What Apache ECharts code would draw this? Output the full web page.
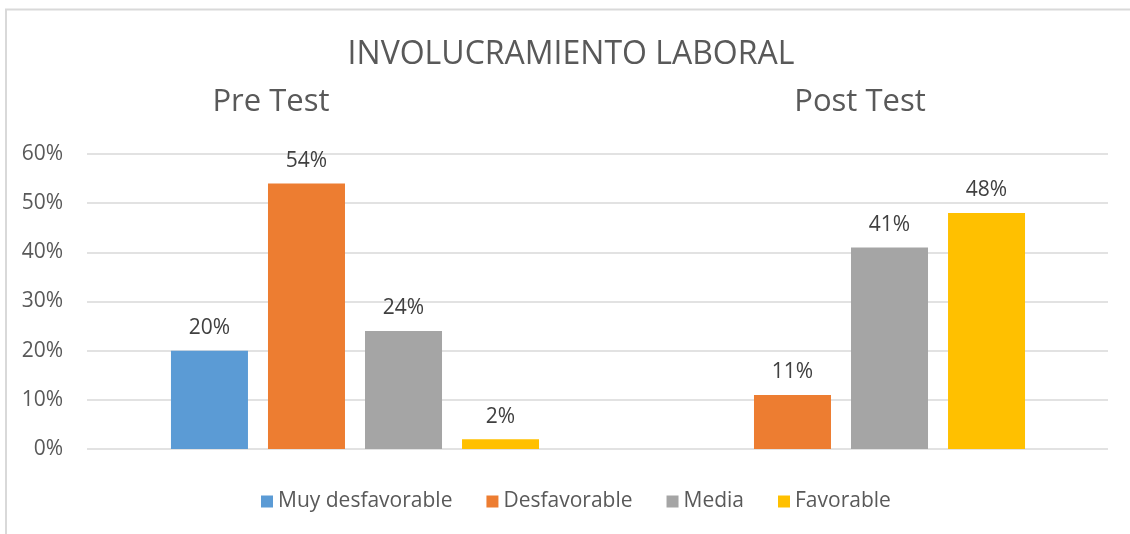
<!DOCTYPE html>
<html>
<head>
<meta charset="utf-8">
<script src="https://cdn.jsdelivr.net/npm/echarts@6/dist/echarts.min.js"></script>
<style>
  html, body { margin: 0; padding: 0; background: #fff; }
  #chart { width: 1130px; height: 534px; }
</style>
</head>
<body>
<div id="chart"></div>
<script>
var categories = ['Pre Test', 'Post Test'];
var seriesNames = ['Muy desfavorable', 'Desfavorable', 'Media', 'Favorable'];
var muyDesfavorable = [20, null];
var desfavorable = [54, 11];
var media = [24, 41];
var favorable = [2, 48];
var yTicks = [0, 10, 20, 30, 40, 50, 60];

var colors = ['#5b9bd5', '#ed7d31', '#a5a5a5', '#ffc000'];
var font = '"Open Sans", "Noto Sans", sans-serif';

function barSeries (name, values, color) {
  return {
    name: name,
    type: 'bar',
    xAxisIndex: 1,
    yAxisIndex: 1,
    barWidth: 77,
    barGap: '26%',
    itemStyle: { color: color },
    label: {
      show: true,
      position: 'top',
      distance: 12,
      formatter: '{c}%',
      color: '#404040',
      fontSize: 21,
      fontFamily: font
    },
    data: values
  }
}

var chart = echarts.init(document.getElementById('chart'))
chart.setOption({
  animation: false,
  color: colors,
  title: [
    { text: 'INVOLUCRAMIENTO LABORAL', left: 566, top: 34, textAlign: 'center',
      textStyle: { color: '#595959', fontSize: 32, fontWeight: 'normal', fontFamily: font } },
    { text: 'Pre Test', left: 266, top: 82, textAlign: 'center',
      textStyle: { color: '#595959', fontSize: 31, fontWeight: 'normal', fontFamily: font } },
    { text: 'Post Test', left: 855, top: 82, textAlign: 'center',
      textStyle: { color: '#595959', fontSize: 31, fontWeight: 'normal', fontFamily: font } }
  ],
  legend: {
    data: seriesNames,
    top: 491,
    left: 261,
    padding: 0,
    icon: 'rect',
    itemWidth: 12,
    itemHeight: 12,
    itemGap: 34,
    textStyle: { color: '#595959', fontSize: 21, fontFamily: font }
  },
  graphic: [
    { type: 'rect', shape: { x: 6, y: 9.5, width: 1140, height: 540 },
      style: { fill: null, stroke: '#d9d9d9', lineWidth: 2 }, silent: true }
  ],
  grid: [
    { left: 87, right: 22, top: 154, bottom: 85 },
    { left: 112, right: 46, top: 154, bottom: 85 }
  ],
  xAxis: [
    { type: 'category', gridIndex: 0, data: categories, show: false },
    { type: 'category', gridIndex: 1, data: categories, show: false }
  ],
  yAxis: [
    {
      type: 'value', gridIndex: 0, min: yTicks[0], max: yTicks[yTicks.length - 1], interval: 10,
      axisLine: { show: false },
      axisTick: { show: false },
      axisLabel: { formatter: '{value}%', color: '#595959', fontSize: 21, fontFamily: font, margin: 24 },
      splitLine: { lineStyle: { color: '#d9d9d9', width: 1.5 } }
    },
    {
      type: 'value', gridIndex: 1, min: yTicks[0], max: yTicks[yTicks.length - 1], interval: 10,
      show: false, splitLine: { show: false }
    }
  ],
  series: [
    barSeries(seriesNames[0], muyDesfavorable, colors[0]),
    barSeries(seriesNames[1], desfavorable, colors[1]),
    barSeries(seriesNames[2], media, colors[2]),
    barSeries(seriesNames[3], favorable, colors[3])
  ]
})
</script>
</body>
</html>
